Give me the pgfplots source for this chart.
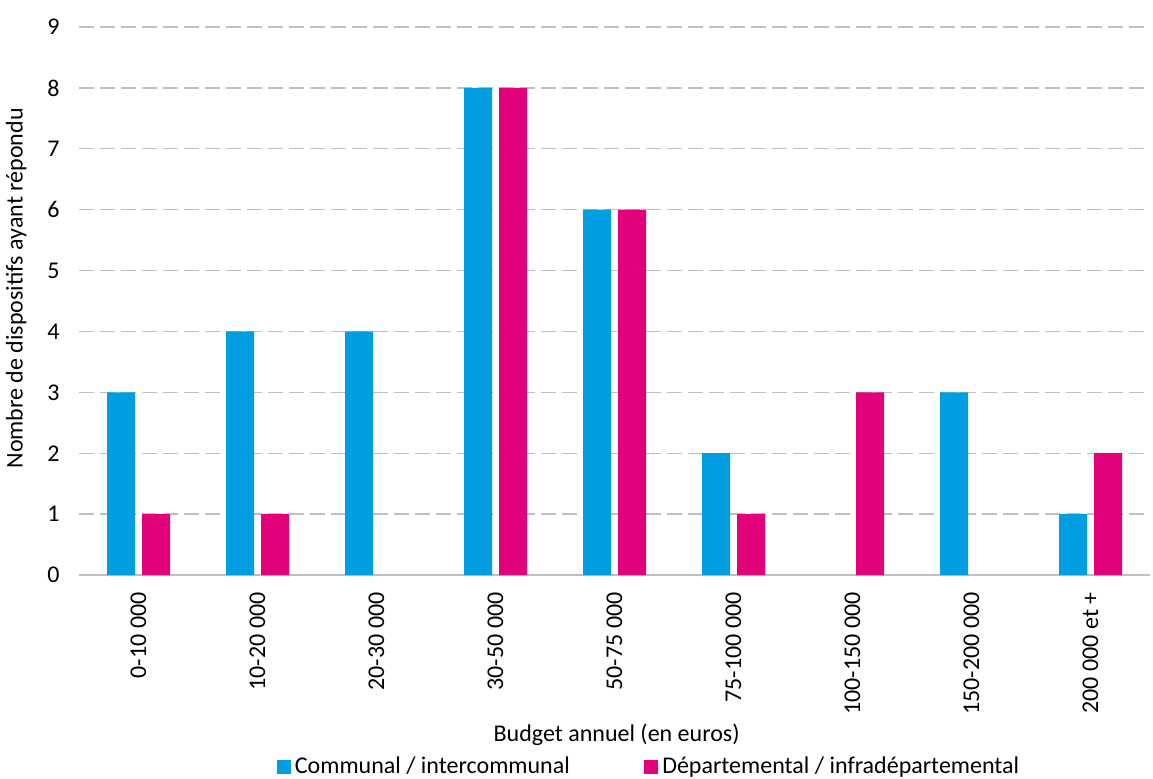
\documentclass[border=0pt]{standalone}
\usepackage{pgfplots}
\pgfplotsset{compat=1.18}
\usepackage{fontspec}
\setmainfont{Carlito}
\definecolor{cblue}{RGB}{0,158,224}
\definecolor{cmag}{RGB}{227,0,123}
\definecolor{gridgray}{RGB}{191,191,191}
\begin{document}
\begin{tikzpicture}
\begin{axis}[
  scale only axis,
  width=535.5pt, height=274pt,
  xmin=-0.5, xmax=8.5, ymin=0, ymax=9,
  ybar=3.5pt, bar width=14pt,
  xtick={0,1,2,3,4,5,6,7,8},
  xticklabels={0-10 000,10-20 000,20-30 000,30-50 000,50-75 000,75-100 000,100-150 000,150-200 000,200 000 et +},
  ytick={0,1,...,9},
  major tick length=0pt,
  axis x line*=bottom, axis y line*=left,
  x axis line style={gridgray, line width=0.8pt, -},
  y axis line style={draw=none},
  ymajorgrids,
  major grid style={gridgray, line width=0.65pt, dash pattern=on 7.5pt off 3pt},
  /pgf/number format/assume math mode=true,
  yticklabel style={font=\fontsize{12}{14}\selectfont, anchor=east, xshift=-9.5pt, inner sep=0pt},
  xticklabel style={font=\fontsize{12}{14}\selectfont, rotate=90, anchor=east, inner sep=0pt, xshift=-8.5pt},
  ylabel={Nombre de dispositifs ayant répondu},
  ylabel style={font=\fontsize{12}{14}\selectfont, at={(axis description cs:-0.0486,0.523)}, anchor=south, inner sep=0pt},
  xlabel={Budget annuel (en euros)},
  xlabel style={font=\fontsize{12}{14}\selectfont, at={(axis description cs:0.502,-0.292)}, anchor=center, inner sep=0pt},
  legend columns=2,
  legend style={at={(axis description cs:0.533,-0.350)}, anchor=center, draw=none,
    font=\fontsize{12}{14}\selectfont, column sep=0pt,
    /tikz/every even column/.append style={column sep=35pt}},
  legend image code/.code={\fill[#1] (-1pt,-3.6pt) rectangle (6.2pt,3.6pt);},
  clip=false,
]
\addplot[fill=cblue, draw=none] coordinates {(0,3) (1,4) (2,4) (3,8) (4,6) (5,2) (7,3) (8,1)};
\addplot[fill=cmag, draw=none] coordinates {(0,1) (1,1) (3,8) (4,6) (5,1) (6,3) (8,2)};
\legend{Communal / intercommunal, Départemental / infradépartemental}
\end{axis}
\pgfresetboundingbox
\path ([shift={(-39.5pt,-101.5pt)}]current axis.south west) rectangle ([shift={(1.5pt,13.5pt)}]current axis.north east);
\end{tikzpicture}
\end{document}
